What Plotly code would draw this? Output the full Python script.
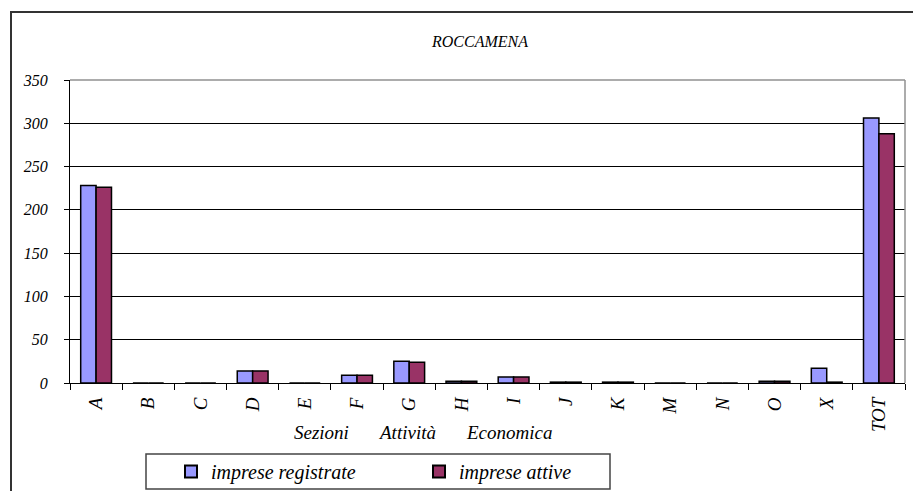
import plotly.graph_objects as go

categories = ["A", "B", "C", "D", "E", "F", "G", "H", "I", "J", "K", "M", "N", "O", "X", "TOT"]
registrate = [228, 0, 0, 14, 0, 9, 25, 2, 7, 1, 1, 0, 0, 2, 17, 306]
attive = [226, 0, 0, 14, 0, 9, 24, 2, 7, 1, 1, 0, 0, 2, 1, 288]
y_ticks = [0, 50, 100, 150, 200, 250, 300, 350]

FONT = "'Times New Roman', 'Liberation Serif', 'DejaVu Serif', serif"
W, H = 913, 491
L, R, T, B = 70, 8, 80, 108
pw, ph = W - L - R, H - T - B

def px(x):
    return (x - L) / pw

def py(y):
    return (H - B - y) / ph

fig = go.Figure()
fig.add_trace(go.Bar(x=categories, y=registrate, name="imprese registrate",
                     marker=dict(color="#9999FF", line=dict(color="black", width=1.5))))
fig.add_trace(go.Bar(x=categories, y=attive, name="imprese attive",
                     marker=dict(color="#993366", line=dict(color="black", width=1.5))))

fig.update_layout(
    width=W, height=H,
    margin=dict(l=L, r=R, t=T, b=B, autoexpand=False),
    paper_bgcolor="white", plot_bgcolor="white",
    barmode="group", bargap=0.41, bargroupgap=0,
    font=dict(family=FONT, color="black", style="italic"),
    showlegend=True,
    legend=dict(orientation="h", xref="container", yref="container",
                x=171 / W, y=1 - 471.5 / H, xanchor="left", yanchor="middle",
                borderwidth=0, bgcolor="rgba(0,0,0,0)",
                font=dict(family=FONT, size=20, style="italic"),
                entrywidth=203, entrywidthmode="pixels", traceorder="normal",
                itemsizing="constant"),
    xaxis=dict(type="category", tickangle=-90, tickson="boundaries",
               ticks="outside", ticklen=6, tickcolor="black", automargin=False,
               showline=True, linecolor="black", linewidth=1,
               showgrid=False, ticklabelstandoff=6,
               tickfont=dict(family=FONT, size=19, style="italic")),
    yaxis=dict(range=[0, 350], tickvals=y_ticks, ticks="outside", ticklen=5,
               tickcolor="black", showline=True, linecolor="black", linewidth=1,
               showgrid=True, gridcolor="black", gridwidth=1, zeroline=False,
               automargin=False, ticklabelstandoff=13,
               tickfont=dict(family=FONT, size=16, style="italic")),
    shapes=[
        dict(type="rect", xref="paper", yref="paper", x0=px(11), x1=px(930), y0=py(510), y1=py(12),
             line=dict(color="#333333", width=2), fillcolor="rgba(0,0,0,0)", layer="below"),
        dict(type="rect", xref="paper", yref="paper", x0=px(146), x1=px(610), y0=py(489), y1=py(454),
             line=dict(color="#444444", width=1.5), fillcolor="rgba(0,0,0,0)", layer="below"),
        dict(type="line", xref="paper", yref="paper", x0=0, x1=1, y0=1, y1=1,
             line=dict(color="#909090", width=1.5)),
        dict(type="line", xref="paper", yref="paper", x0=1, x1=1, y0=0, y1=1,
             line=dict(color="#909090", width=1.5)),
    ],
    annotations=[
        dict(text="ROCCAMENA", xref="paper", yref="paper", x=px(479), y=py(41),
             xanchor="center", yanchor="middle", showarrow=False,
             font=dict(family=FONT, size=16, style="italic")),
        dict(text="Sezioni", xref="paper", yref="paper",
             x=px(321), y=py(432), xanchor="center", yanchor="middle", showarrow=False,
             font=dict(family=FONT, size=19, style="italic")),
        dict(text="Attività", xref="paper", yref="paper",
             x=px(407), y=py(432), xanchor="center", yanchor="middle", showarrow=False,
             font=dict(family=FONT, size=19, style="italic")),
        dict(text="Economica", xref="paper", yref="paper",
             x=px(509), y=py(432), xanchor="center", yanchor="middle", showarrow=False,
             font=dict(family=FONT, size=19, style="italic")),
    ],
)

fig.write_html("out.html", config={"displayModeBar": False},
               post_script="document.body.style.margin='0';document.body.style.overflow='hidden';")
